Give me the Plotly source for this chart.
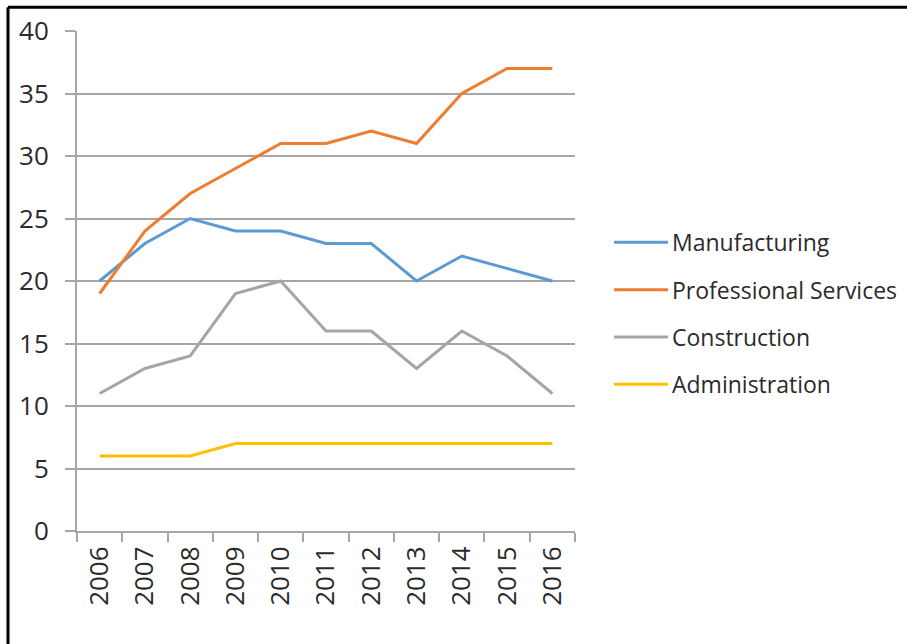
import plotly.graph_objects as go

# Employment by sector, 2006-2016
years = ["2006", "2007", "2008", "2009", "2010", "2011", "2012", "2013", "2014", "2015", "2016"]
manufacturing = [20, 23, 25, 24, 24, 23, 23, 20, 22, 21, 20]
professional_services = [19, 24, 27, 29, 31, 31, 32, 31, 35, 37, 37]
construction = [11, 13, 14, 19, 20, 16, 16, 13, 16, 14, 11]
administration = [6, 6, 6, 7, 7, 7, 7, 7, 7, 7, 7]

series_names = ["Manufacturing", "Professional Services", "Construction", "Administration"]
series_values = [manufacturing, professional_services, construction, administration]
series_colors = ["#5B9BD5", "#ED7D31", "#A5A5A5", "#FFC000"]

W, H = 907, 644
L, R, T, B = 77, 332, 27, 113
plot_w = W - L - R
plot_h = H - T - B

FONT = "Open Sans"
TEXT = "#2b2b2b"
GRID = "#A6A6A6"

fig = go.Figure()
for name, vals, col in zip(series_names, series_values, series_colors):
    fig.add_trace(go.Scatter(
        x=years, y=vals, name=name, mode="lines",
        line=dict(color=col, width=3),
        showlegend=False,
    ))


def px_to_paper_x(px):
    return (px - L) / plot_w


def px_to_paper_y(py):
    return (H - B - py) / plot_h


# Legend drawn as sample lines with labels to the right of the plot
shapes = []
annotations = []
legend_top = 240
legend_step = 47.7
for i, (name, col) in enumerate(zip(series_names, series_colors)):
    yp = px_to_paper_y(legend_top + i * legend_step)
    shapes.append(dict(
        type="line", xref="paper", yref="paper",
        x0=px_to_paper_x(614), x1=px_to_paper_x(668), y0=yp, y1=yp,
        line=dict(color=col, width=3),
    ))
    annotations.append(dict(
        xref="paper", yref="paper", x=px_to_paper_x(670), y=yp,
        xanchor="left", yanchor="middle", showarrow=False, text=name,
        font=dict(family=FONT, size=23, color=TEXT),
    ))

# Frame along the top and left edges
shapes.append(dict(type="line", xref="paper", yref="paper",
                   x0=px_to_paper_x(8), x1=px_to_paper_x(W + 2),
                   y0=px_to_paper_y(3), y1=px_to_paper_y(3),
                   line=dict(color="black", width=3)))
shapes.append(dict(type="line", xref="paper", yref="paper",
                   x0=px_to_paper_x(8), x1=px_to_paper_x(8),
                   y0=px_to_paper_y(3), y1=px_to_paper_y(H + 2),
                   line=dict(color="black", width=3)))

fig.update_layout(
    width=W, height=H,
    margin=dict(l=L, r=R, t=T, b=B, pad=0),
    paper_bgcolor="white", plot_bgcolor="white",
    shapes=shapes, annotations=annotations,
    showlegend=False,
)
fig.update_xaxes(
    type="category", range=[-0.5, len(years) - 0.5],
    tickson="boundaries", ticks="outside", ticklen=9, tickwidth=2, tickcolor=GRID,
    showline=True, linecolor=GRID, linewidth=2,
    showgrid=False, tickangle=-90, ticklabelstandoff=3,
    tickfont=dict(family=FONT, size=26, color=TEXT),
)
fig.update_yaxes(
    range=[0, 40], dtick=5, tick0=0,
    ticks="outside", ticklen=10, tickwidth=2, tickcolor=GRID,
    showline=True, linecolor=GRID, linewidth=2,
    showgrid=True, gridcolor=GRID, gridwidth=2,
    zeroline=False, ticklabelstandoff=11,
    tickfont=dict(family=FONT, size=26, color=TEXT),
)

fig.write_html("out.html")
